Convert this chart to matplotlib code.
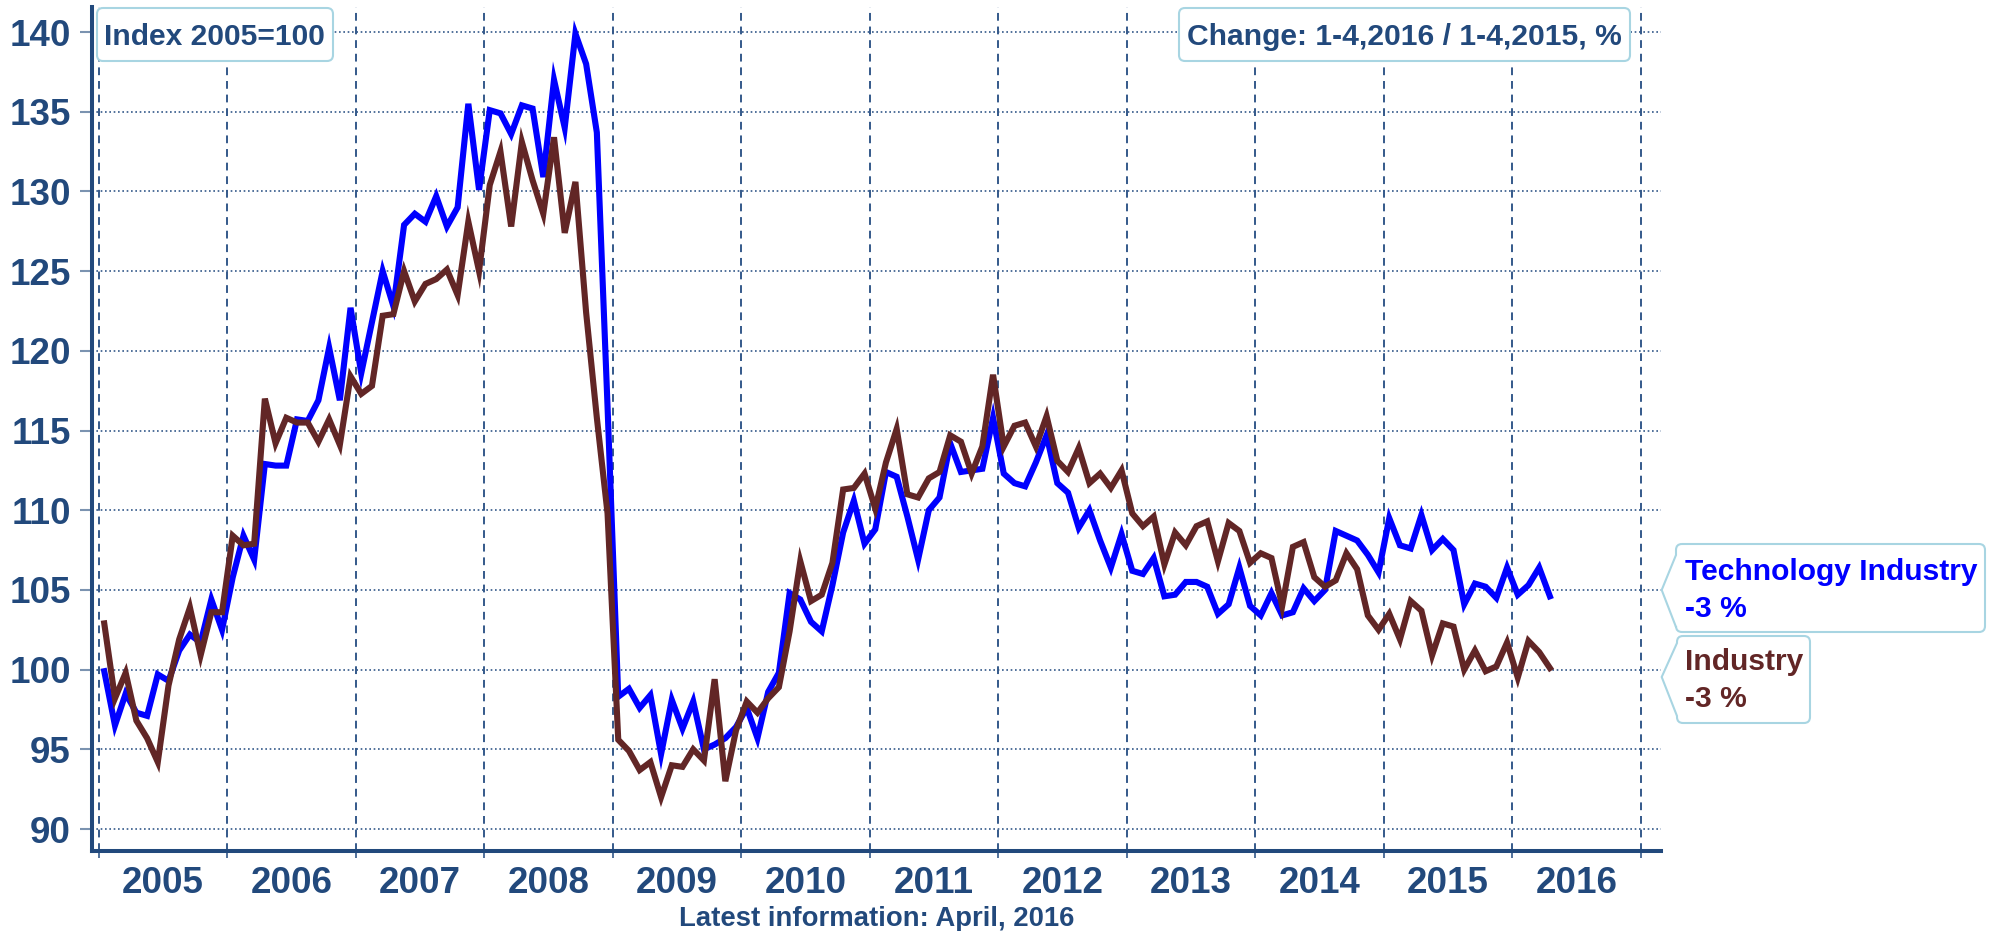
import matplotlib
matplotlib.use("Agg")
from matplotlib import pyplot as plt
from matplotlib.path import Path
from matplotlib.patches import PathPatch
import numpy as np

# Monthly index (2005=100), January 2005 - April 2016
tech_industry = [
    99.9, 96.5, 98.5, 97.3, 97.1, 99.7, 99.3, 101.2, 102.2, 101.7, 104.4, 102.5,
    105.8, 108.4, 106.9, 112.9, 112.8, 112.8, 115.7, 115.6, 116.9, 120.2, 116.9, 122.7,
    118.6, 121.8, 125.0, 122.8, 127.9, 128.6, 128.1, 129.7, 127.8, 129.0, 135.5, 130.1,
    135.1, 134.9, 133.6, 135.4, 135.2, 130.9, 137.0, 134.0, 139.9, 138.0, 133.7, 116.5,
    98.3, 98.8, 97.6, 98.4, 94.7, 98.1, 96.3, 98.0, 95.0, 95.3, 95.7, 96.4,
    97.6, 95.7, 98.6, 99.8, 104.8, 104.4, 103.0, 102.4, 105.3, 108.6, 110.6, 107.9,
    108.8, 112.4, 112.1, 109.6, 106.9, 110.0, 110.8, 114.2, 112.4, 112.5, 112.6, 115.8,
    112.3, 111.7, 111.5, 113.0, 114.7, 111.7, 111.1, 108.9, 110.0, 108.1, 106.4, 108.5,
    106.2, 106.0, 107.0, 104.6, 104.7, 105.5, 105.5, 105.2, 103.5, 104.1, 106.4, 104.0,
    103.4, 104.8, 103.4, 103.6, 105.1, 104.3, 105.0, 108.7, 108.4, 108.1, 107.2, 106.1,
    109.5, 107.8, 107.6, 109.7, 107.5, 108.2, 107.5, 104.1, 105.4, 105.2, 104.5, 106.4,
    104.7, 105.3, 106.4, 104.6,
]
industry = [
    102.9, 98.2, 99.8, 96.8, 95.7, 94.2, 99.0, 101.9, 103.9, 100.9, 103.6, 103.6,
    108.4, 107.8, 107.9, 117.0, 114.2, 115.8, 115.5, 115.5, 114.3, 115.7, 114.1, 118.4,
    117.3, 117.8, 122.2, 122.3, 125.0, 123.1, 124.2, 124.5, 125.1, 123.5, 128.1, 125.0,
    130.4, 132.5, 127.8, 133.1, 130.7, 128.6, 133.4, 127.4, 130.6, 122.4, 115.8, 109.8,
    95.6, 94.9, 93.7, 94.2, 92.0, 94.0, 93.9, 95.0, 94.3, 99.4, 93.0, 96.2,
    98.0, 97.3, 98.2, 98.9, 102.4, 106.8, 104.3, 104.7, 106.7, 111.3, 111.4, 112.3,
    110.1, 113.0, 115.1, 111.0, 110.8, 112.0, 112.4, 114.7, 114.3, 112.3, 114.0, 118.5,
    114.0, 115.3, 115.5, 114.0, 115.9, 113.1, 112.4, 113.9, 111.7, 112.3, 111.4, 112.5,
    109.8, 109.0, 109.6, 106.6, 108.6, 107.8, 109.0, 109.3, 106.8, 109.2, 108.7, 106.7,
    107.3, 107.0, 104.0, 107.7, 108.0, 105.8, 105.2, 105.6, 107.3, 106.3, 103.4, 102.5,
    103.5, 101.9, 104.3, 103.7, 100.9, 102.9, 102.7, 100.0, 101.2, 99.9, 100.2, 101.7,
    99.5, 101.8, 101.1, 100.1,
]
first_year = 2005
year_labels = [str(y) for y in range(2005, 2017)]
y_ticks = [90, 95, 100, 105, 110, 115, 120, 125, 130, 135, 140]
tech_label = ["Technology Industry", "-3 %"]
industry_label = ["Industry", "-3 %"]

text_color = "#22497c"
grid_color = "#34598a"
box_edge = "#a8d5e2"
blue = "#0000ff"
brown = "#622626"

plt.rcParams["font.family"] = ["Liberation Sans", "DejaVu Sans"]
plt.rcParams["font.weight"] = "bold"

W, H = 2001, 931
fig = plt.figure(figsize=(W / 100, H / 100), dpi=100)
ax = fig.add_axes([91.7 / W, 1 - 850.7 / H, 1569 / W, 844 / H])

# months plotted at mid-month
x = first_year + (np.arange(len(tech_industry)) + 0.5) / 12
ax.plot(x, tech_industry, color=blue, lw=4.4, solid_joinstyle="miter", zorder=3)
ax.plot(x, industry, color=brown, lw=4.4, solid_joinstyle="miter", zorder=4)

ax.set_xlim(2004.944, 2017.154)
ax.set_ylim(88.64, 141.59)

ax.set_xticks(range(2005, 2018))
ax.set_xticklabels([])
ax.set_xticks(np.arange(2005.5, 2017), minor=True)
ax.set_xticklabels(year_labels, minor=True)
ax.tick_params(axis="x", which="major", length=5, width=1.2, color=grid_color)
ax.tick_params(axis="x", which="minor", length=0, pad=11, labelsize=26.5,
               labelcolor=text_color)
ax.set_yticks(y_ticks)
ax.tick_params(axis="y", length=9, width=1.5, color="#7b93b0", pad=6,
               labelsize=26.5, labelcolor=text_color)

ax.grid(axis="x", which="major", linestyle=(0, (4, 3)), color=grid_color, lw=1.4)
ax.grid(axis="y", linestyle=(0, (1, 1.6)), color=grid_color, lw=1.2)

for s in ["top", "right"]:
    ax.spines[s].set_visible(False)
for s in ["left", "bottom"]:
    ax.spines[s].set_linewidth(2.9)
    ax.spines[s].set_color(text_color)


def P(px, py):
    return (px / W, 1 - py / H)


def box(left, top, right, bottom, tip=None, base=None, r=6):
    # rounded box in image pixels, optional pointer on the left side
    verts = [P(left + r, top), P(right - r, top), P(right, top), P(right, top + r),
             P(right, bottom - r), P(right, bottom), P(right - r, bottom),
             P(left + r, bottom), P(left, bottom), P(left, bottom - r)]
    codes = [Path.MOVETO, Path.LINETO, Path.CURVE3, Path.CURVE3,
             Path.LINETO, Path.CURVE3, Path.CURVE3,
             Path.LINETO, Path.CURVE3, Path.CURVE3]
    if tip is not None:
        verts += [P(left, base[1]), P(*tip), P(left, base[0])]
        codes += [Path.LINETO] * 3
    verts += [P(left, top + r), P(left, top), P(left + r, top)]
    codes += [Path.LINETO, Path.CURVE3, Path.CURVE3]
    fig.add_artist(PathPatch(Path(verts, codes), transform=fig.transFigure,
                             fc="white", ec=box_edge, lw=1.5, zorder=5))


box(97, 8, 333, 61)
fig.text(*P(104, 45), "Index 2005=100", ha="left", va="baseline",
         fontsize=21.6, color=text_color, zorder=6)

box(1179, 8, 1630, 61)
fig.text(*P(1187, 45), "Change: 1-4,2016 / 1-4,2015, %", ha="left",
         va="baseline", fontsize=21.6, color=text_color, zorder=6)

box(1676, 544, 1985, 632, tip=(1661.7, 590), base=(555, 627))
fig.text(*P(1685, 580), tech_label[0], ha="left", va="baseline",
         fontsize=21.6, color=blue, zorder=6)
fig.text(*P(1685, 617), tech_label[1], ha="left", va="baseline",
         fontsize=21.6, color=blue, zorder=6)

box(1677, 636, 1810, 723, tip=(1661.7, 677), base=(643, 716))
fig.text(*P(1685, 670), industry_label[0], ha="left", va="baseline",
         fontsize=21.6, color=brown, zorder=6)
fig.text(*P(1685, 707), industry_label[1], ha="left", va="baseline",
         fontsize=21.6, color=brown, zorder=6)

fig.text(*P(877, 926), "Latest information: April, 2016", ha="center",
         va="baseline", fontsize=19.8, color=text_color)

fig.savefig("out.png", dpi=100)
